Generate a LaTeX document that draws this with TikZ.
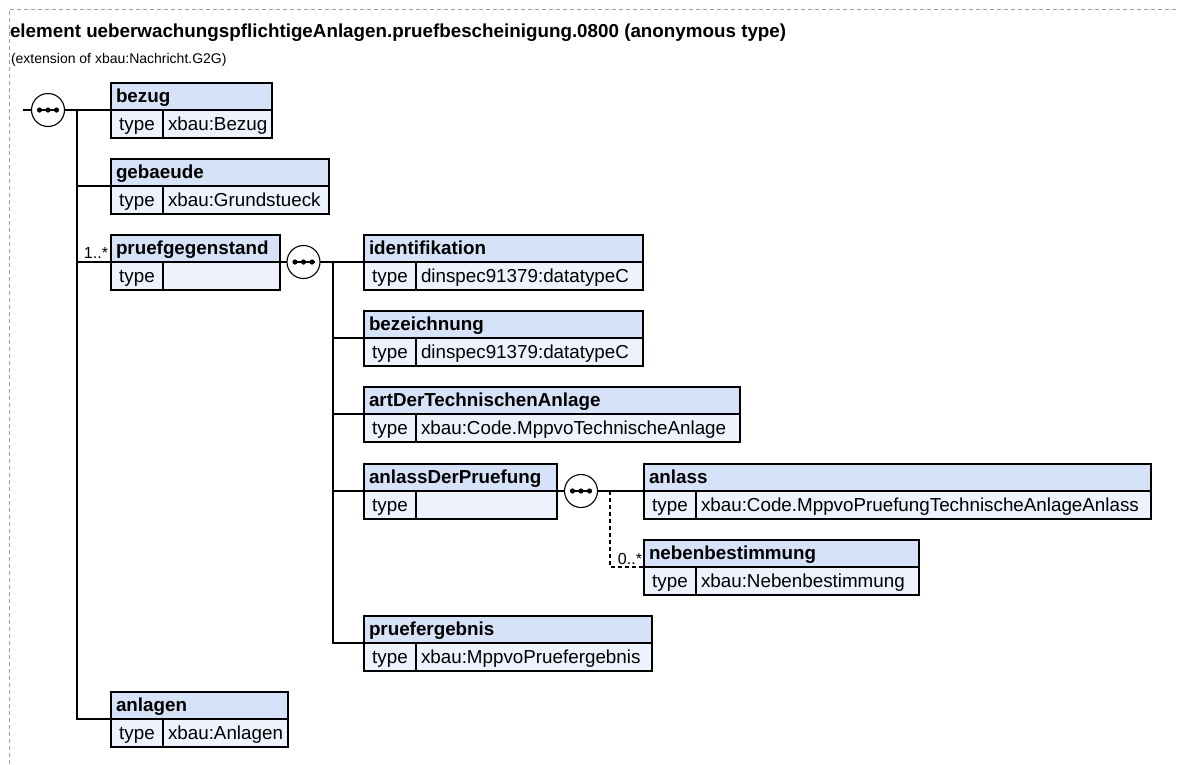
\documentclass[tikz,border=0pt]{standalone}
\usepackage{fontspec}
\setmainfont{Liberation Sans}
\definecolor{hdrfill}{RGB}{214,226,247}
\definecolor{typefill}{RGB}{237,242,252}
\definecolor{framecol}{RGB}{160,160,160}
\newcommand\xelem[6]{%
  \pgfmathsetmacro\xwa{#4-#2-10}%
  \pgfmathsetmacro\xwb{#4-#2-52-10}%
  \node[hdr, text width=\xwa pt] (#1) at (#2,#3) {#5};
  \node[tlab] (#1-t) at (#2,#3+27) {type};
  \node[tval, text width=\xwb pt] (#1-v) at (#2+52,#3+27) {#6};
}
\newcommand\xdots[1]{%
  \draw[line width=1.2pt] ([xshift=-11pt]#1.center) -- ([xshift=11pt]#1.center);
  \foreach \d in {-8.5,0,8.5} \fill ([xshift=\d pt]#1.center) circle (2.6pt);
}
\begin{document}
\begin{tikzpicture}[x=1pt,y=-1pt,
  every node/.style={outer sep=0pt},
  cell/.style={draw=black, line width=1.1pt, anchor=north west, inner ysep=0pt, inner xsep=5pt, text height=12.5pt, text depth=0pt, font=\fontsize{18.8}{22}\selectfont},
  hdr/.style={cell, fill=hdrfill, minimum height=27pt, font=\fontsize{18.8}{22}\selectfont\bfseries, align=left},
  tlab/.style={cell, fill=typefill, minimum height=28pt, minimum width=52pt},
  tval/.style={cell, fill=typefill, minimum height=28pt, align=left},
  comp/.style={circle, draw=black, fill=white, line width=1.1pt, minimum size=33pt, inner sep=0pt},
  conn/.style={line width=1.1pt},
  opt/.style={conn, dash pattern=on 4pt off 3pt},
  card/.style={font=\fontsize{16}{18}\selectfont, inner sep=0pt, anchor=base east}
]
\useasboundingbox (0,0) rectangle (1179,764);
\draw[framecol, line width=0.8pt, dash pattern=on 4pt off 3pt] (9,764) -- (9,9) -- (1179,9);

\node[anchor=base west, inner sep=0pt, font=\fontsize{18.8}{22}\selectfont\bfseries] (title) at (10,37.5) {element ueberwachungspflichtigeAnlagen.pruefbescheinigung.0800 (anonymous type)};
\node[anchor=base west, inner sep=0pt, font=\fontsize{14}{16}\selectfont] (sub) at (11,63) {(extension of xbau:Nachricht.G2G)};

\xelem{bezug}{111}{83}{272}{bezug}{xbau:Bezug}
\xelem{gebaeude}{111}{159}{329}{gebaeude}{xbau:Grundstueck}
\xelem{pg}{111}{235}{280}{pruefgegenstand}{}
\xelem{ident}{364}{235}{643}{identifikation}{dinspec91379:datatypeC}
\xelem{bez}{364}{311}{643}{bezeichnung}{dinspec91379:datatypeC}
\xelem{art}{364}{387}{740}{artDerTechnischenAnlage}{xbau:Code.MppvoTechnischeAnlage}
\xelem{ad}{364}{464}{557}{anlassDerPruefung}{}
\xelem{anl}{644}{464}{1151}{anlass}{xbau:Code.MppvoPruefungTechnischeAnlageAnlass}
\xelem{neb}{644}{540}{919}{nebenbestimmung}{xbau:Nebenbestimmung}
\xelem{pe}{364}{616}{652}{pruefergebnis}{xbau:MppvoPruefergebnis}
\xelem{anlagen}{111}{692}{288}{anlagen}{xbau:Anlagen}

% top-level sequence
\node[comp] (c0) at (48,110) {};
\coordinate (s0) at (23,110);
\coordinate (t0) at (77,110);
\draw[conn] (s0) -- (c0);
\draw[conn] (c0) -- (bezug.south west);
\draw[conn] (t0) |- (anlagen.south west);
\draw[conn] (t0 |- gebaeude.south west) -- (gebaeude.south west);
\draw[conn] (t0 |- pg.south west) -- (pg.south west);
\xdots{c0}

% pruefgegenstand sequence
\node[comp] (c1) at (303.5,262) {};
\coordinate (t1) at (333,262);
\draw[conn] (pg.south east) -- (c1);
\draw[conn] (c1) -- (ident.south west);
\draw[conn] (t1) |- (pe.south west);
\draw[conn] (t1 |- bez.south west) -- (bez.south west);
\draw[conn] (t1 |- art.south west) -- (art.south west);
\draw[conn] (t1 |- ad.south west) -- (ad.south west);
\xdots{c1}

% anlassDerPruefung sequence
\node[comp] (c2) at (581,491) {};
\coordinate (t2) at (610,491);
\draw[conn] (ad.south east) -- (c2);
\draw[conn] (c2) -- (anl.south west);
\draw[opt] (t2) |- (neb.south west);
\xdots{c2}

\node[card] (m1) at (108,258) {1..*};
\node[card] (m2) at (642,564) {0..*};
\end{tikzpicture}
\end{document}
